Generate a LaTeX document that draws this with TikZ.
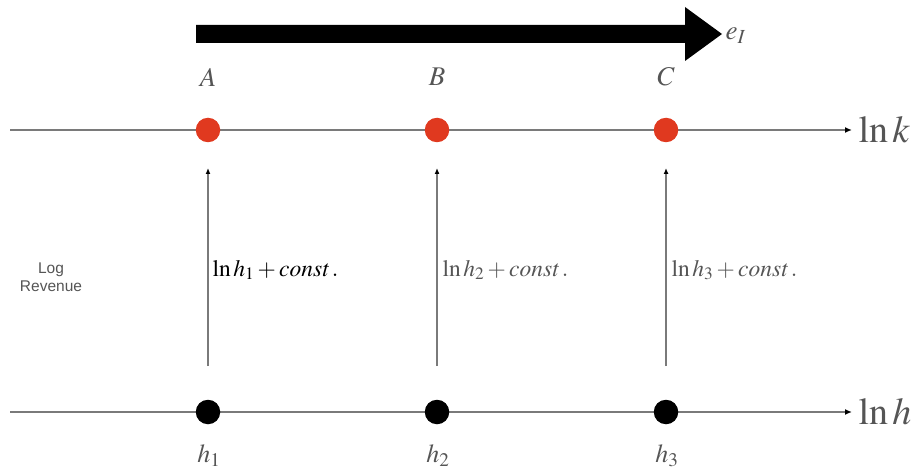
\documentclass[tikz,border=0pt]{standalone}
\usepackage{mathptmx}
\usepackage{fontspec}
\setmainfont{Liberation Serif}
\setsansfont{Liberation Sans}
\usetikzlibrary{arrows.meta}
\definecolor{dotred}{HTML}{E0391F}
\definecolor{axisgray}{HTML}{7A7A7A}
\definecolor{labgray}{HTML}{555555}
\tikzset{
  axis/.style={draw=axisgray, line width=1.6pt, -{Latex[length=7pt,width=6pt,color=black]}},
  uparrow/.style={draw=axisgray, line width=1.3pt, -{Latex[length=6pt,width=5pt,color=black]}},
  reddot/.style={circle, fill=dotred, minimum size=24.5pt, inner sep=0pt},
  blackdot/.style={circle, fill=black, minimum size=24.5pt, inner sep=0pt},
  ptlabel/.style={text=labgray, font=\fontsize{27}{29}\selectfont},
  hlabel/.style={text=labgray, font=\fontsize{26}{28}\selectfont},
  axlabel/.style={text=labgray, font=\fontsize{38}{40}\selectfont, anchor=west},
  constlab/.style={font=\fontsize{23.5}{25}\selectfont, anchor=west},
}
\begin{document}
\begin{tikzpicture}[x=1pt,y=-1pt]
\useasboundingbox (0,0) rectangle (920,473);
% big arrow
\fill[black] (196,25) -- (685,25) -- (685,7) -- (722,34) -- (685,61) -- (685,43) -- (196,43) -- cycle;
\node[ptlabel, anchor=west] (eI) at (722,36) {$e_I$};
% top axis
\coordinate (ks) at (10,130);
\coordinate (ke) at (852,130);
\draw[axis] (ks) -- (ke);
\node[axlabel] (lnk) at (855,130) {$\ln k$};
% bottom axis
\coordinate (hs) at (10,412);
\coordinate (he) at (852,412);
\draw[axis] (hs) -- (he);
\node[axlabel] (lnh) at (855,412) {$\ln h$};
% dots
\node[reddot] (A) at (208,130) {};
\node[reddot] (B) at (437,130) {};
\node[reddot] (C) at (666,130) {};
\node[blackdot] (H1) at (208,412) {};
\node[blackdot] (H2) at (437,412) {};
\node[blackdot] (H3) at (666,412) {};
% letters
\node[ptlabel] (lA) at (208,77) {$A$};
\node[ptlabel] (lB) at (437,77) {$B$};
\node[ptlabel] (lC) at (666,77) {$C$};
\node[hlabel] (l1) at (209,456) {$h_1$};
\node[hlabel] (l2) at (438,456) {$h_2$};
\node[hlabel] (l3) at (667,456) {$h_3$};
% vertical arrows
\coordinate (a1s) at (208,366); \coordinate (a1e) at (208,168);
\coordinate (a2s) at (437,366); \coordinate (a2e) at (437,168);
\coordinate (a3s) at (666,366); \coordinate (a3e) at (666,168);
\draw[uparrow] (a1s) -- (a1e);
\draw[uparrow] (a2s) -- (a2e);
\draw[uparrow] (a3s) -- (a3e);
\node[constlab, text=black] (c1) at (209,270) {$\ln h_1 + \mathit{const}\,.$};
\node[constlab, text=labgray] (c2) at (439,270) {$\ln h_2 + \mathit{const}\,.$};
\node[constlab, text=labgray] (c3) at (668,270) {$\ln h_3 + \mathit{const}\,.$};
% log revenue
\node[text=labgray, font=\sffamily\fontsize{15.5}{18}\selectfont, align=center] (lr) at (51,277) {Log\\Revenue};
\end{tikzpicture}
\end{document}
